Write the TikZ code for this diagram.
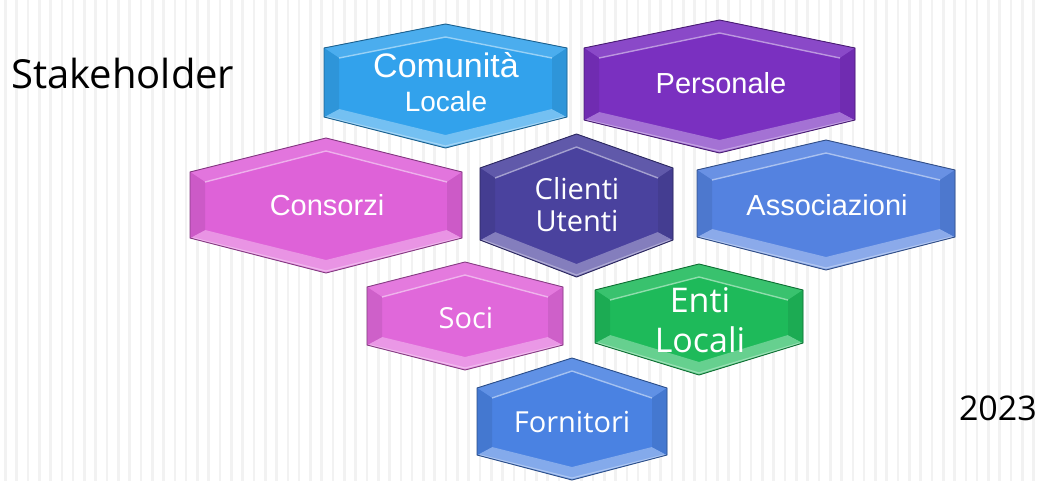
\documentclass[tikz,border=0pt]{standalone}
\usepackage{fontspec}
\setmainfont{Liberation Sans}
\newfontfamily\seg{Open Sans}
\definecolor{cComu}{RGB}{50,162,236}
\definecolor{cPers}{RGB}{122,48,192}
\definecolor{cCons}{RGB}{222,98,216}
\definecolor{cClie}{RGB}{74,66,158}
\definecolor{cAsso}{RGB}{84,130,224}
\definecolor{cSoci}{RGB}{224,104,218}
\definecolor{cEnti}{RGB}{30,186,90}
\definecolor{cForn}{RGB}{74,130,226}
\newcommand\hexa[7]{%
\pgfmathsetmacro\hC{(#1+#2)/2}%
\pgfmathsetmacro\hiL{#1+15}%
\pgfmathsetmacro\hiR{#2-15}%
\pgfmathsetmacro\hiT{#3+13}%
\pgfmathsetmacro\hiA{#4+10}%
\pgfmathsetmacro\hiB{#5-8}%
\pgfmathsetmacro\hiBo{#6-13}%
\fill[#7] (#1,#4)--(\hC,#3)--(#2,#4)--(#2,#5)--(\hC,#6)--(#1,#5)--cycle;
\fill[#7!88!white] (#1,#4)--(\hC,#3)--(#2,#4)--(\hiR,\hiA)--(\hC,\hiT)--(\hiL,\hiA)--cycle;
\fill[#7!68!white] (#1,#5)--(\hC,#6)--(#2,#5)--(\hiR,\hiB)--(\hC,\hiBo)--(\hiL,\hiB)--cycle;
\fill[#7!92!black] (#1,#4)--(\hiL,\hiA)--(\hiL,\hiB)--(#1,#5)--cycle;
\fill[#7!92!black] (#2,#4)--(\hiR,\hiA)--(\hiR,\hiB)--(#2,#5)--cycle;
\draw[#7!50!white,line width=1.4,line join=round] (\hiL,\hiA)--(\hC,\hiT)--(\hiR,\hiA);
\draw[#7!45!white,line width=1.2,line join=round] (#1+3,#5)--(\hC,#6-2)--(#2-3,#5);
\draw[#7!60!black,line width=0.9,line join=round] (#1,#4)--(\hC,#3)--(#2,#4)--(#2,#5)--(\hC,#6)--(#1,#5)--cycle;
}
\tikzset{lbl/.style={anchor=base,text=white,inner sep=0pt}}
\begin{document}
\begin{tikzpicture}[x=1pt,y=-1pt]
\useasboundingbox (0,0) rectangle (1041,481);
\fill[white] (0,0) rectangle (1041,481);
\foreach \x in {4,15.3,...,1041} \fill[black!5] (\x,0) rectangle (\x+2.6,481);
\hexa{324}{567}{24}{48}{117}{148}{cComu}
\hexa{584}{855}{20}{48}{120}{153}{cPers}
\hexa{190}{462}{138}{172}{238}{273}{cCons}
\hexa{480}{673}{134}{168}{240}{277}{cClie}
\hexa{697}{955}{140}{170}{237}{270}{cAsso}
\hexa{367}{563}{262}{287}{345}{370}{cSoci}
\hexa{595}{803}{264}{290}{343}{375}{cEnti}
\hexa{477}{667}{358}{388}{455}{480}{cForn}
\node[lbl,font=\fontsize{34}{34}\selectfont] (comu) at (446,78) {Comunità};
\node[lbl,font=\fontsize{28}{28}\selectfont] (loca) at (446,112) {Locale};
\node[lbl,font=\fontsize{29}{29}\selectfont] (pers) at (721,94) {Personale};
\node[lbl,font=\fontsize{29}{29}\selectfont] (cons) at (327,215) {Consorzi};
\node[lbl,font=\seg\fontsize{29}{29}\selectfont] (clie) at (577,200) {Clienti};
\node[lbl,font=\seg\fontsize{29}{29}\selectfont] (uten) at (577,232) {Utenti};
\node[lbl,font=\fontsize{29}{29}\selectfont] (asso) at (827,215) {Associazioni};
\node[lbl,font=\seg\fontsize{29}{29}\selectfont] (soci) at (466,328) {Soci};
\node[lbl,font=\seg\fontsize{34}{34}\selectfont] (enti) at (700,312) {Enti};
\node[lbl,font=\seg\fontsize{34}{34}\selectfont] (lcli) at (700,352) {Locali};
\node[lbl,font=\seg\fontsize{29}{29}\selectfont] (forn) at (572,432) {Fornitori};
\node[anchor=base west,inner sep=0pt,font=\seg\fontsize{40}{40}\selectfont] (stak) at (11,89) {Stakeholder};
\node[anchor=base east,inner sep=0pt,font=\seg\fontsize{34}{34}\selectfont] (year) at (1037,420) {2023};
\end{tikzpicture}
\end{document}
